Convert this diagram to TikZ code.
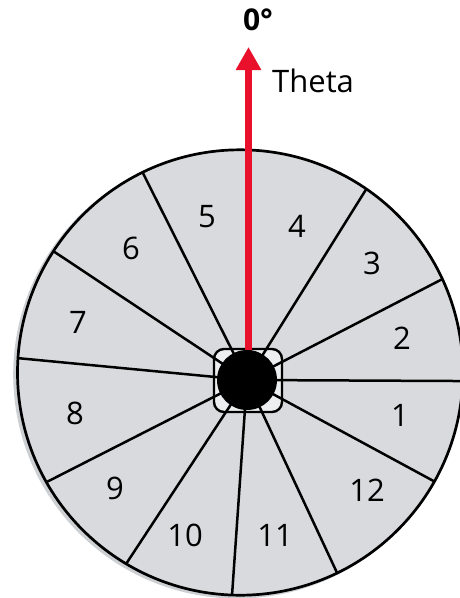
\documentclass[tikz,border=0pt]{standalone}
\usepackage{fontspec}
\setmainfont{Open Sans}
\usetikzlibrary{arrows.meta}
\definecolor{sectorgray}{HTML}{D8DADD}
\definecolor{shadowgray}{HTML}{CDD0D3}
\definecolor{hubgray}{HTML}{ECEEF0}
\definecolor{arrowred}{HTML}{E8102A}
\tikzset{
  spoke/.style={line width=2.5pt, black},
  rim/.style={line width=2.7pt, black},
  num/.style={font=\fontsize{31}{36}\selectfont, text=black, inner sep=0pt},
}
\begin{document}
\begin{tikzpicture}[x=1pt,y=-1pt]
\useasboundingbox (0,0) rectangle (459,598);
\coordinate (c) at (240.2,372.5);
% shadow and disc fill
\fill[shadowgray] ([shift={(-3,2)}]c) circle[radius=224pt];
\fill[sectorgray] (c) circle[radius=222.7pt];
% spoke end points on rim
\foreach \n/\a in {p45/87.7, p56/116.0, p67/147.0, p78/176.3, p89/209.5, p910/239.2,
                   p1011/267.9, p1112/295.8, p121/330.7, p12/357.8, p23/24.8, p34/55.5}
  \coordinate (\n) at ([shift={(\a:222.7pt)}]c);
% hub square fill
\node[draw=none, fill=hubgray, minimum width=68pt, minimum height=63pt, rounded corners=10pt, inner sep=0pt] (hubsq) at (248,380.5) {};
\coordinate (hc) at (247,380);
% spokes
\foreach \n in {p56, p67, p78, p89, p910, p1011, p1112, p121, p12, p23, p34}
  \draw[spoke] (hc) -- (\n);
% rim
\draw[rim] (c) circle[radius=222.7pt];
% hub square outline
\node[draw, line width=2.4pt, minimum width=68pt, minimum height=63pt, rounded corners=10pt, inner sep=0pt] (hubframe) at (248,380.5) {};
% red arrow
\coordinate (tip) at (248.5,47);
\draw[arrowred, line width=7pt, -{Triangle[width=24pt,length=23pt]}] (248.5,380) -- (tip);
% hub disc
\node[circle, fill=black, minimum size=60pt, inner sep=0pt] (hub) at (hc) {};
% labels
\node[font=\fontsize{30}{35}\selectfont\bfseries, inner sep=0pt] (zero) at (258,20) {0°};
\node[num, anchor=west] (theta) at (272,81) {Theta};
\node[num] (n1) at (400,415) {1};
\node[num] (n2) at (402,338) {2};
\node[num] (n3) at (372,263) {3};
\node[num] (n4) at (297,226) {4};
\node[num] (n5) at (207,217) {5};
\node[num] (n6) at (131,248) {6};
\node[num] (n7) at (78,322) {7};
\node[num] (n8) at (75,413) {8};
\node[num] (n9) at (115,488) {9};
\node[num] (n10) at (185,535) {10};
\node[num] (n11) at (275,535) {11};
\node[num] (n12) at (367,490) {12};
\end{tikzpicture}
\end{document}
